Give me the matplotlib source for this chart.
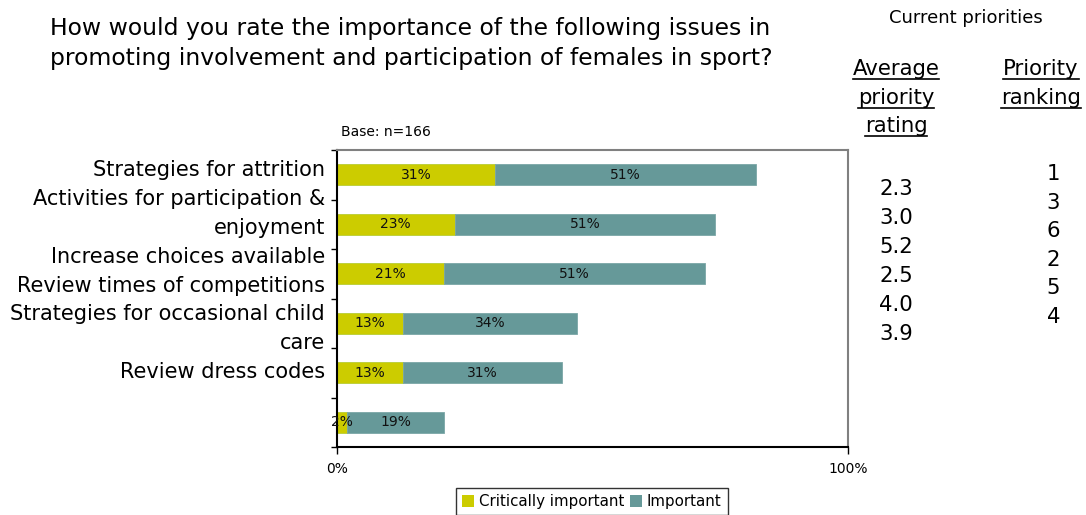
import matplotlib
matplotlib.use("Agg")
import matplotlib.pyplot as plt
from matplotlib.lines import Line2D
from matplotlib.patches import Patch

categories = ["Strategies for attrition",
              "Activities for participation &\nenjoyment",
              "Increase choices available",
              "Review times of competitions",
              "Strategies for occasional child\ncare",
              "Review dress codes"]
critical = [31, 23, 21, 13, 13, 2]
important = [51, 51, 51, 34, 31, 19]
avg_rating = ["2.3", "3.0", "5.2", "2.5", "4.0", "3.9"]
ranking = ["1", "3", "6", "2", "5", "4"]

C_CRIT = "#CCCC00"
C_IMP = "#669999"

W, H = 1086, 515
fig = plt.figure(figsize=(W / 100, H / 100), dpi=100)
plt.rcParams['font.family'] = ['DejaVu Sans']

def fx(px):
    return px / W

def fy(py):
    return 1 - py / H

ax = fig.add_axes([fx(337), fy(447), fx(848) - fx(337), fy(150) - fy(447)])
y = list(range(len(categories)))
bh = 0.42
ax.barh(y, critical, height=bh, color=C_CRIT, edgecolor="#B8CC33", linewidth=0.6, label="Critically important")
ax.barh(y, important, left=critical, height=bh, color=C_IMP, edgecolor="#7AA6A6", linewidth=0.6, label="Important")
for i in y:
    ax.text(critical[i] / 2, i, f"{critical[i]}%", ha="center", va="center", fontsize=10, color="#111111")
    ax.text(critical[i] + important[i] / 2, i, f"{important[i]}%", ha="center", va="center", fontsize=10, color="#111111")

ax.set_xlim(0, 100)
ax.set_ylim(len(categories) - 0.5, -0.5)
ax.set_yticks([i - 0.5 for i in range(len(categories) + 1)])
ax.set_yticklabels([])
ax.tick_params(axis="y", direction="out", length=4, width=1, color="black")
ax.set_xticks([0, 100])
ax.set_xticklabels(["0%", "100%"], fontsize=10)
ax.tick_params(axis="x", direction="out", length=5, width=1, color="black", pad=6)
for s in ["top", "right"]:
    ax.spines[s].set_color("#808080")
    ax.spines[s].set_linewidth(1.5)
for s in ["left", "bottom"]:
    ax.spines[s].set_color("black")
    ax.spines[s].set_linewidth(1.5)

# category labels (right aligned, stacked lines as in the reference)
lines = []
for c in categories:
    lines.extend(c.split("\n"))
for k, ln in enumerate(lines):
    fig.text(fx(325), fy(170 + k * 28.9), ln, ha="right", va="center", fontsize=15)

fig.text(fx(341), fy(132), "Base: n=166", ha="left", va="center", fontsize=10)

fig.text(fx(50), fy(28), "How would you rate the importance of the following issues in",
         ha="left", va="center", fontsize=16.9)
fig.text(fx(50), fy(59), "promoting involvement and participation of females in sport?",
         ha="left", va="center", fontsize=16.9)

fig.text(fx(966), fy(18), "Current priorities", ha="center", va="center", fontsize=13)

hdr_left = ["Average", "priority", "rating"]
hdr_right = ["Priority", "ranking"]
hdr_texts = []
for k, t in enumerate(hdr_left):
    hdr_texts.append(fig.text(fx(896), fy(75 + k * 28.5), t, ha="center", va="baseline", fontsize=15.3))
for k, t in enumerate(hdr_right):
    hdr_texts.append(fig.text(fx(1041), fy(75 + k * 28.5), t, ha="center", va="baseline", fontsize=15.3))

for k, v in enumerate(avg_rating):
    fig.text(fx(896), fy(189 + k * 28.9), v, ha="center", va="center", fontsize=15.3)
for k, v in enumerate(ranking):
    fig.text(fx(1060), fy(174 + k * 28.6), v, ha="right", va="center", fontsize=15.3)

fig.canvas.draw()
r = fig.canvas.get_renderer()
for t in hdr_texts:
    bb = t.get_window_extent(renderer=r)
    yb = t.get_position()[1] * H - 4
    fig.add_artist(Line2D([bb.x0 / W, bb.x1 / W], [yb / H, yb / H], transform=fig.transFigure, color="black", lw=1.2))

handles = [Patch(facecolor=C_CRIT, edgecolor="none"), Patch(facecolor=C_IMP, edgecolor="none")]
leg = fig.legend(handles, ["Critically important", "Important"], loc="upper center",
                 bbox_to_anchor=(fx(592), fy(488)), ncol=2, fontsize=10.8, frameon=True,
                 fancybox=False, edgecolor="black", handlelength=0.8, handleheight=0.8,
                 handletextpad=0.3, columnspacing=0.4, borderpad=0.4, borderaxespad=0)
leg.get_frame().set_linewidth(1.0)

fig.savefig("out.png", dpi=100)
